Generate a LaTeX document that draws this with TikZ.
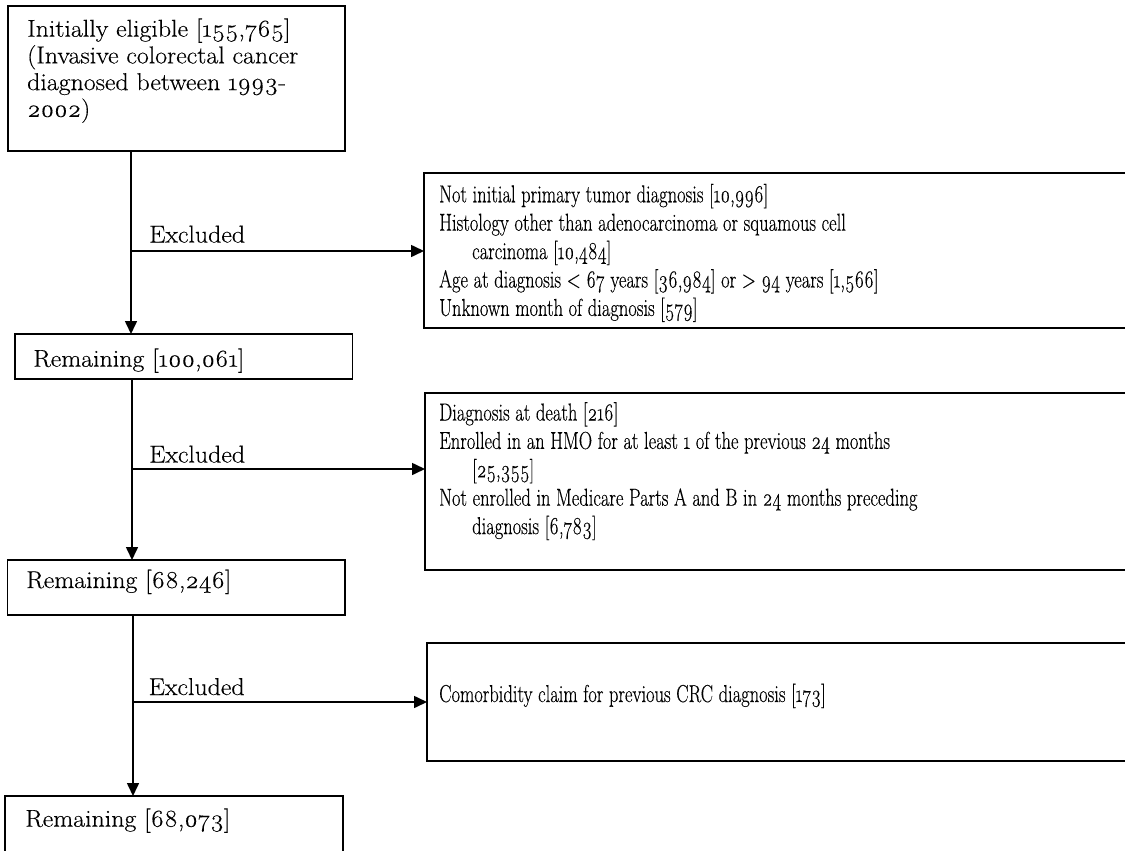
\documentclass[tikz,border=0pt]{standalone}
\usepackage{fontspec}
\setmainfont{Latin Modern Roman}[Numbers=OldStyle]
\newfontfamily\widefont{Latin Modern Roman}[Numbers=OldStyle,FakeStretch=1.06,FakeBold=0.3]
\newfontfamily\condfont{Latin Modern Roman}[Numbers=OldStyle,FakeStretch=0.755,FakeBold=0.3]
\usetikzlibrary{arrows.meta}
\begin{document}
\begin{tikzpicture}[x=1pt,y=-1pt,
  box/.style={draw, line width=1.6pt, inner sep=0pt, outer sep=0pt, anchor=north west},
  lefttext/.style={anchor=base west, align=left, inner sep=0pt, font=\widefont\fontsize{24.4}{26.7}\selectfont},
  righttext/.style={anchor=base west, align=left, inner sep=0pt, font=\condfont\fontsize{24.5}{28.4}\selectfont},
  conn/.style={line width=1.6pt},
  arr/.style={conn, -{Triangle[length=13pt,width=12pt]}}]
\useasboundingbox (0,0) rectangle (1125,851);
\clip (0,0) rectangle (1125,851);
% left boxes
\node[box, minimum width=337pt, minimum height=145pt] (b1) at (8,6) {};
\node[box, minimum width=337.5pt, minimum height=45pt] (b2) at (15,334) {};
\node[box, minimum width=337.5pt, minimum height=55pt] (b3) at (7.5,560) {};
\node[box, minimum width=338pt, minimum height=80pt] (b4) at (5,796) {};
% right boxes
\node[box, minimum width=716pt, minimum height=155pt] (r1) at (424,173) {};
\node[box, minimum width=715pt, minimum height=177pt] (r2) at (425,393) {};
\node[box, minimum width=713pt, minimum height=118pt] (r3) at (427,643) {};
% texts (base anchor = baseline of the last line)
\node[lefttext] (t1) at (27,116.8) {Initially eligible [155,765]\\(Invasive colorectal cancer\\diagnosed between 1993-\\2002)};
\node[lefttext] (t2) at (33,366.7) {Remaining [100,061]};
\node[lefttext] (t3) at (26,588) {Remaining [68,246]};
\node[lefttext] (t4) at (25,826.7) {Remaining [68,073]};
\node[righttext] (u1) at (439,315.9) {Not initial primary tumor diagnosis [10,996]\\Histology other than adenocarcinoma or squamous cell\\\hspace*{33pt}carcinoma [10,484]\\Age at diagnosis < 67 years [36,984] or > 94 years [1,566]\\Unknown month of diagnosis [579]};
\node[righttext] (u2) at (439,534.1) {Diagnosis at death [216]\\Enrolled in an HMO for at least 1 of the previous 24 months\\\hspace*{33pt}[25,355]\\Not enrolled in Medicare Parts A and B in 24 months preceding\\\hspace*{33pt}diagnosis [6,783]};
\node[righttext] (u3) at (439,702) {Comorbidity claim for previous CRC diagnosis [173]};
% split points
\coordinate (s1) at (131,251);
\coordinate (s2) at (132,469);
\coordinate (s3) at (133,702);
% connectors
\draw[conn] (b1.south -| s1) -- (s1);
\draw[arr] (s1) -- (b2.north -| s1);
\draw[arr] (s1) -- (s1 -| r1.west);
\draw[conn] (b2.south -| s2) -- (s2);
\draw[arr] (s2) -- (b3.north -| s2);
\draw[arr] (s2) -- (s2 -| r2.west);
\draw[conn] (b3.south -| s3) -- (s3);
\draw[arr] (s3) -- (b4.north -| s3);
\draw[arr] (s3) -- (s3 -| r3.west);
% labels
\node[lefttext] (e1) at (149,242.5) {Excluded};
\node[lefttext] (e2) at (149,462.5) {Excluded};
\node[lefttext] (e3) at (148.5,695) {Excluded};
\end{tikzpicture}
\end{document}
